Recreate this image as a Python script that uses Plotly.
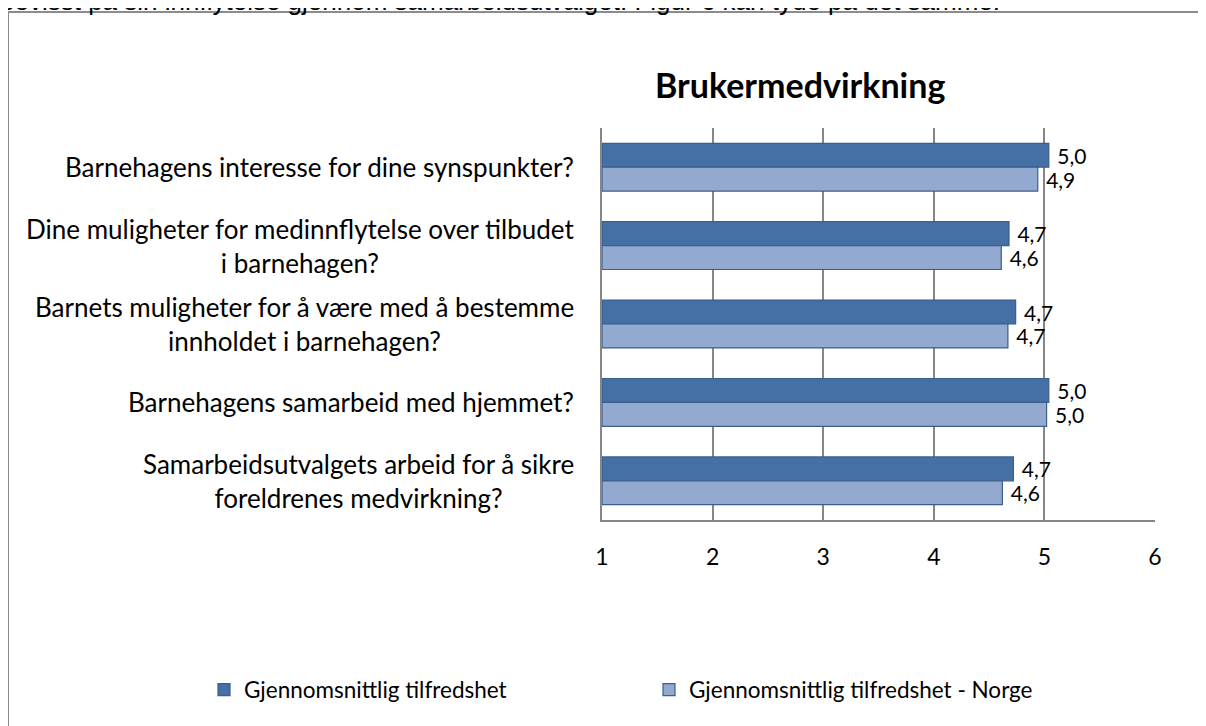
import plotly.graph_objects as go

# --- data ---
categories = [
    "Barnehagens interesse for dine synspunkter?",
    "Dine muligheter for medinnflytelse over tilbudet<br>i barnehagen?",
    "Barnets muligheter for å være med å bestemme<br>innholdet i barnehagen?",
    "Barnehagens samarbeid med hjemmet?",
    "Samarbeidsutvalgets arbeid for å sikre<br>foreldrenes medvirkning?",
]
snitt = [5.04, 4.68, 4.74, 5.04, 4.72]
snitt_norge = [4.94, 4.61, 4.67, 5.02, 4.62]
series_names = ["Gjennomsnittlig tilfredshet", "Gjennomsnittlig tilfredshet - Norge"]
x_ticks = [1, 2, 3, 4, 5, 6]

# page has an 8px body margin, so the figure sits at (8, 8)
OFF = 8
W, H = 1206 - OFF, 726 - OFF
L, R, T, B = 602, 1155, 128, 520   # plot area in page px


def px_x(p):
    return (p - L) / (R - L)


def px_y(p):
    return (B - p) / (B - T)


FONT = "Lato, 'Open Sans', sans-serif"
dark, light, edge = "#4570A6", "#94A9D0", "#3A5F8C"

fig = go.Figure()
for name, vals, col in [(series_names[0], snitt, dark), (series_names[1], snitt_norge, light)]:
    fig.add_trace(go.Bar(
        y=categories, x=[v - 1 for v in vals], base=1, orientation="h", name=name,
        marker=dict(color=col, line=dict(color=edge, width=1.2)),
        text=[" " + f"{v:.1f}".replace(".", ",") for v in vals],
        textposition="outside", cliponaxis=False, constraintext="none",
        textfont=dict(family=FONT, size=21, color="#000"),
    ))

fig.update_layout(
    width=W, height=H,
    margin=dict(l=L - OFF, r=W - (R - OFF), t=T - OFF, b=H - (B - OFF)),
    paper_bgcolor="white", plot_bgcolor="white",
    barmode="group", bargap=0.39, bargroupgap=0,
    font=dict(family=FONT, size=20, color="#000"),
    showlegend=True,
    legend=dict(orientation="h", x=px_x(204), y=px_y(690), xanchor="left", yanchor="middle",
                itemwidth=30, entrywidth=400, font=dict(size=22.5), traceorder="normal"),
)
fig.update_xaxes(range=[1, 6], tickvals=x_ticks, showgrid=True, gridcolor="#868686", gridwidth=1.5,
                 showline=True, linecolor="#868686", linewidth=1.5, zeroline=False,
                 ticks="", ticklabelstandoff=16, tickfont=dict(size=23))
fig.update_yaxes(autorange="reversed", showticklabels=False, showline=True, linecolor="#868686",
                 linewidth=1.5, ticks="")

# category labels (centered lines, right-aligned block)
for c in categories:
    fig.add_annotation(text=c, x=px_x(576), y=c, xref="paper", yref="y", xanchor="right",
                       yanchor="middle", align="center", showarrow=False,
                       font=dict(family=FONT, size=26, color="#000"))

# title
fig.add_annotation(text="<b>Brukermedvirkning</b>", x=px_x(800), y=px_y(84), xref="paper", yref="paper",
                   xanchor="center", yanchor="middle", showarrow=False,
                   font=dict(family=FONT, size=34, color="#000"))

# cut-off text line above the chart frame
fig.add_annotation(text="bevisst på sin innflytelse gjennom samarbeidsutvalget. Figur 6 kan tyde på det samme.",
                   x=px_x(-2), y=px_y(1), xref="paper", yref="paper", xanchor="left", yanchor="middle",
                   showarrow=False, font=dict(family="Liberation Sans, Arial", size=26, color="#000"))

# chart frame
fig.add_shape(type="rect", xref="paper", yref="paper", x0=px_x(8), x1=px_x(1205), y0=px_y(760), y1=px_y(12),
              line=dict(color="#8C8C8C", width=2), fillcolor="rgba(0,0,0,0)", layer="below")

fig.write_html("out.html")
